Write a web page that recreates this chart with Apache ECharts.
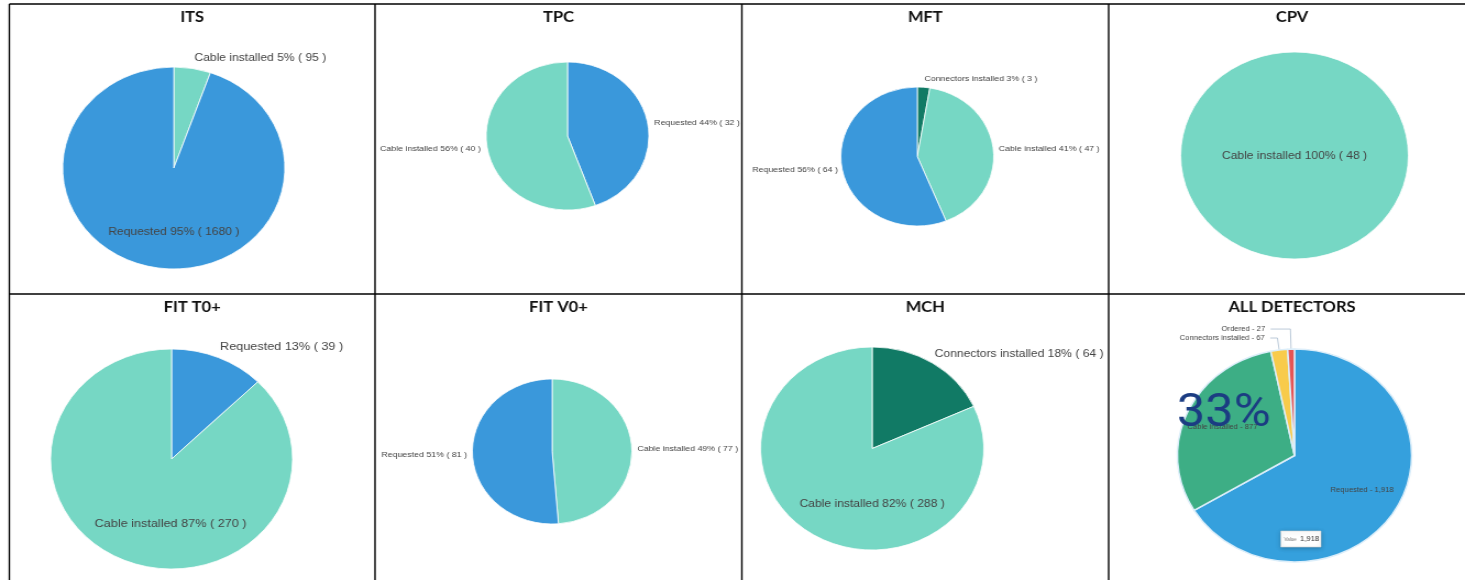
<!DOCTYPE html>
<html><head><meta charset="utf-8">
<script src="https://cdn.jsdelivr.net/npm/echarts/dist/echarts.min.js"></script>
<style>
html,body{margin:0;padding:0;background:#fff;overflow:hidden;width:1465px;height:580px}
#wrap{width:1465px;height:580px;overflow:hidden;position:relative}
#chart{width:1332px;height:580px;transform:scaleX(1.09985);transform-origin:0 0}
</style></head>
<body><div id="wrap"><div id="chart"></div></div>
<script>
// ---- data ----
const detectorTitles = ['ITS', 'TPC', 'MFT', 'CPV', 'FIT T0+', 'FIT V0+', 'MCH', 'ALL DETECTORS'];
const itsNames = ['Cable installed', 'Requested'];
const itsValues = [95, 1680];
const tpcNames = ['Requested', 'Cable installed'];
const tpcValues = [32, 40];
const mftNames = ['Connectors installed', 'Cable installed', 'Requested'];
const mftValues = [3, 47, 64];
const cpvNames = ['Cable installed'];
const cpvValues = [48];
const t0Names = ['Requested', 'Cable installed'];
const t0Values = [39, 270];
const v0Names = ['Cable installed', 'Requested'];
const v0Values = [77, 81];
const mchNames = ['Connectors installed', 'Cable installed'];
const mchValues = [64, 288];
const allNames = ['Requested', 'Cable installed', 'Connectors installed', 'Ordered'];
const allValues = [1918, 877, 67, 27];

// ---- styles ----
const C_REQ = '#3A98DB', C_CABLE = '#76D7C4', C_CONN = '#117A65';
const ALL_COLORS = ['#35A0DD', '#3DAE85', '#F8CB4B', '#E65454'];
const colorOf = {'Requested': C_REQ, 'Cable installed': C_CABLE, 'Connectors installed': C_CONN};
const FONT = 'Liberation Sans';

function pieSeries(names, values, colors, center, radius, fontSize, itemCfg, shifts, formatter, border) {
  return {
    type: 'pie', center: center, radius: radius, startAngle: 90, clockwise: true,
    avoidLabelOverlap: false, percentPrecision: 0, animation: false,
    emphasis: {disabled: true},
    itemStyle: {borderColor: border ? border.color : '#ffffff', borderWidth: border ? border.width : 0.8},
    label: {formatter: formatter || '{b} {d}% ( {c} )', fontFamily: FONT, fontSize: fontSize, color: '#444'},
    labelLayout: function (p) { const s = shifts && shifts[p.dataIndex]; return s ? {dx: s[0], dy: s[1]} : {}; },
    data: names.map(function (n, i) {
      const c = itemCfg[i];
      return {
        name: n, value: values[i], itemStyle: {color: colors[i]},
        label: {position: c.pos, distanceToLabelLine: c.dist == null ? 5 : c.dist},
        labelLine: {show: !!c.line, length: c.len || 0, length2: c.len2 || 0, smooth: false,
                    lineStyle: {color: '#A9BCCF', width: 0.8}}
      };
    })
  };
}
const cols = l => l.map(n => colorOf[n]);
const allFmt = p => p.name + ' - ' + p.value.toLocaleString('en-US');

const series = [
  pieSeries(itsNames, itsValues, cols(itsNames), [158, 168], 101, 11,
    [{pos: 'outside', len: 11, len2: 0, dist: 0}, {pos: 'inside'}], {1: [9, 11]}),
  pieSeries(tpcNames, tpcValues, cols(tpcNames), [516, 136], 74, 8,
    [{pos: 'outside', len: 1}, {pos: 'outside', len: 1}]),
  pieSeries(mftNames, mftValues, cols(mftNames), [834, 156.5], 69.5, 8,
    [{pos: 'outside', len: 8, dist: 0}, {pos: 'outside', len: 0}, {pos: 'outside', len: 1, dist: 3}]),
  pieSeries(cpvNames, cpvValues, cols(cpvNames), [1177, 155.5], 103.5, 11,
    [{pos: 'center'}]),
  pieSeries(t0Names, t0Values, cols(t0Names), [156, 459], 110, 11.5,
    [{pos: 'outside', len: 12, dist: 0}, {pos: 'inside'}], {0: [-3, 0], 1: [21.5, 11.5]}),
  pieSeries(v0Names, v0Values, cols(v0Names), [502, 451.5], 72.5, 8,
    [{pos: 'outside', len: 0}, {pos: 'outside', len: 0}]),
  pieSeries(mchNames, mchValues, cols(mchNames), [793, 448.5], 101.5, 11,
    [{pos: 'outside', len: 12, dist: 0}, {pos: 'inside'}], {0: [-4.5, 1], 1: [29, 10]}),
  pieSeries(allNames, allValues, ALL_COLORS, [1177, 455.5], 106.5, 7,
    [{pos: 'inside'}, {pos: 'inside'}, {pos: 'outside', len: 12, len2: 6.5, line: true},
     {pos: 'outside', len: 20, len2: 18, line: true}], {0: [12.5, 7], 1: [-14, -6]}, allFmt,
    {color: '#DCEEFA', width: 1.5})
];

// ---- table frame + titles ----
const colX = [8.5, 341, 674.5, 1008, 1341.5];
const rowY = [4, 294, 584];
const graphics = [];
colX.forEach(function (x) {
  graphics.push({type: 'line', shape: {x1: x, y1: rowY[0], x2: x, y2: rowY[2]}, style: {stroke: '#000', lineWidth: 1.4}, silent: true});
});
rowY.forEach(function (y) {
  graphics.push({type: 'line', shape: {x1: colX[0], y1: y, x2: colX[4], y2: y}, style: {stroke: '#000', lineWidth: 1.4}, silent: true});
});
detectorTitles.forEach(function (t, i) {
  const c = i % 4, r = Math.floor(i / 4);
  graphics.push({type: 'text', x: (colX[c] + colX[c + 1]) / 2, y: rowY[r] + 13, silent: true,
    style: {text: t, font: 'bold 15px Lato', fill: '#111', textAlign: 'center', textVerticalAlign: 'middle'}});
});
// overlay percentage on ALL DETECTORS (share not in "Requested")
const allTotal = allValues.reduce((a, b) => a + b, 0);
const donePct = Math.floor((allTotal - allValues[0]) / allTotal * 100);
graphics.push({type: 'text', x: 1112.7, y: 414, z: 100, silent: true,
  style: {text: donePct + '%', font: '46px Roboto', fill: '#1B3C82', textAlign: 'center', textVerticalAlign: 'middle'}});
// tooltip-like box
graphics.push({type: 'rect', z: 100, silent: true, shape: {x: 1164.5, y: 531, width: 36.5, height: 16},
  style: {fill: '#fff', stroke: '#d0d0d0', lineWidth: 0.6, shadowBlur: 4, shadowColor: 'rgba(0,0,0,0.25)', shadowOffsetY: 1}});
graphics.push({type: 'text', z: 101, silent: true, x: 1167.5, y: 539.5,
  style: {text: 'Value', font: '4.5px "' + FONT + '"', fill: '#777', textVerticalAlign: 'middle'}});
graphics.push({type: 'text', z: 101, silent: true, x: 1182, y: 539.5,
  style: {text: allValues[0].toLocaleString('en-US'), font: '7px "' + FONT + '"', fill: '#333', textVerticalAlign: 'middle'}});

const chart = echarts.init(document.getElementById('chart'), null, {renderer: 'canvas'});
chart.setOption({backgroundColor: '#fff', animation: false, series: series, graphic: graphics});
</script></body></html>
